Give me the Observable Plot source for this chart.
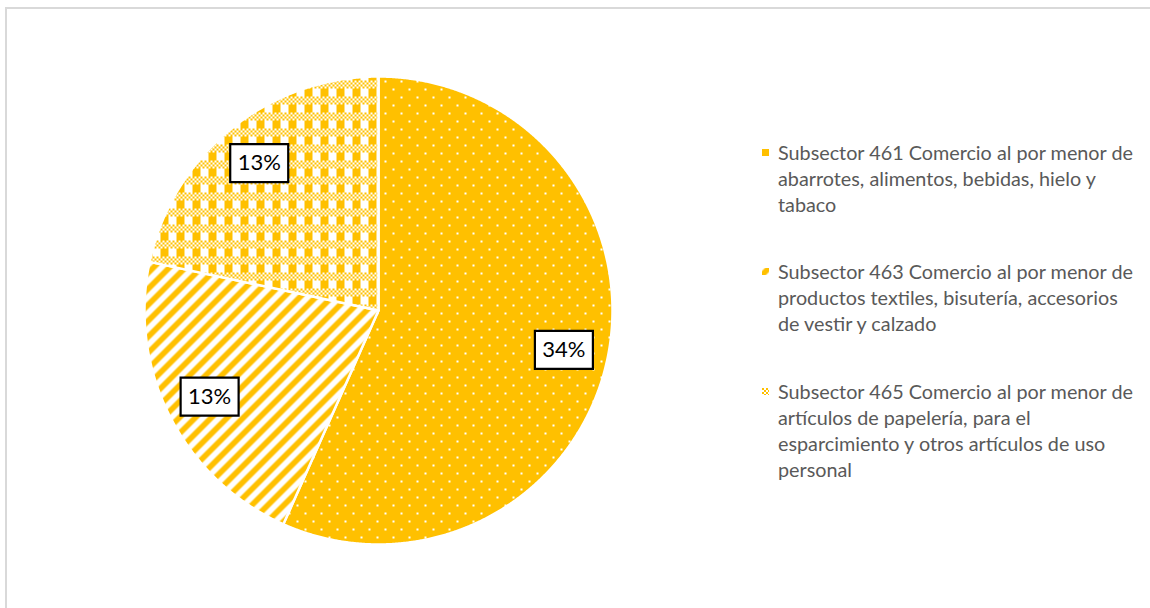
<!DOCTYPE html>
<html><head><meta charset="utf-8">
<script src="https://cdn.jsdelivr.net/npm/d3@7"></script>
<script src="https://cdn.jsdelivr.net/npm/@observablehq/plot@0.6"></script>
<style>
body{margin:0;background:#fff;}
#wrap{position:relative;width:1150px;height:608px;overflow:hidden;background:#fff;font-family:Lato,sans-serif;}
#frame{position:absolute;left:5px;top:7px;width:1200px;height:700px;border-left:2px solid #d9d9d9;border-top:2px solid #d9d9d9;}
#chart{position:absolute;left:0;top:0;}
.item{position:absolute;left:778px;font-size:19.8px;line-height:26px;color:#595959;white-space:nowrap;}
.mk{position:absolute;left:-16px;top:9.5px;width:7px;height:7px;overflow:visible;}
</style></head><body>
<div id="wrap"><div id="frame"></div><div id="chart"></div><div id="legend"></div></div>
<script>
// ---- data ----
const categories = ["Subsector 461", "Subsector 463", "Subsector 465"];
const legendLines = [
  ["Subsector 461 Comercio al por menor de", "abarrotes, alimentos, bebidas, hielo y", "tabaco"],
  ["Subsector 463 Comercio al por menor de", "productos textiles, bisutería, accesorios", "de vestir y calzado"],
  ["Subsector 465 Comercio al por menor de", "artículos de papelería, para el", "esparcimiento y otros artículos de uso", "personal"]
];
const values = [34, 13, 13];
const labels = ["34%", "13%", "13%"];
const patternIds = ["p461", "p463", "p465"];
const ORANGE = "#FFC000";

// ---- pie geometry from data ----
const pie = d3.pie().sort(null).value(d => d.value)(values.map((v, i) => ({key: categories[i], value: v, pat: patternIds[i], label: labels[i]})));
const step = Math.PI / 720;
const slicePts = [];
const labelPts = [];
pie.forEach(s => {
  const k = s.data.key, p = `url(#${s.data.pat})`;
  slicePts.push({key: k, pat: p, x: 0, y: 0});
  const n = Math.ceil((s.endAngle - s.startAngle) / step);
  for (let j = 0; j <= n; j++) {
    const a = s.startAngle + (s.endAngle - s.startAngle) * j / n;
    slicePts.push({key: k, pat: p, x: Math.sin(a), y: Math.cos(a)});
  }
  slicePts.push({key: k, pat: p, x: 0, y: 0});
  const m = (s.startAngle + s.endAngle) / 2;
  labelPts.push({label: s.data.label, x: 0.81 * Math.sin(m), y: 0.81 * Math.cos(m)});
});

const boxSymbol = {draw(ctx) { ctx.rect(-29, -19, 58, 38); }};

const plot = Plot.plot({
  width: 1150, height: 608,
  margin: 0,
  x: {domain: [-1, 1], range: [144, 612], axis: null},
  y: {domain: [-1, 1], range: [544, 76], axis: null},
  color: {type: "identity"},
  style: {background: "transparent", overflow: "visible"},
  marks: [
    Plot.line(slicePts, {x: "x", y: "y", z: "key", fill: "pat", stroke: "white", strokeWidth: 2.5, strokeLinejoin: "round"}),
    Plot.dot(labelPts, {x: "x", y: "y", symbol: boxSymbol, fill: "white", stroke: "black", strokeWidth: 2.2}),
    Plot.text(labelPts, {x: "x", y: "y", text: "label", fontSize: 22, fill: "black", fontFamily: "Lato, sans-serif"})
  ]
});

// ---- pattern definitions ----
const NS = "http://www.w3.org/2000/svg";
function el(tag, attrs, parent) {
  const e = document.createElementNS(NS, tag);
  for (const k in attrs) e.setAttribute(k, attrs[k]);
  if (parent) parent.appendChild(e);
  return e;
}
const defs = el("defs", {});
// dots
let pt = el("pattern", {id: "p461", width: 16, height: 16, patternUnits: "userSpaceOnUse"}, defs);
el("rect", {width: 16, height: 16, fill: ORANGE}, pt);
el("rect", {x: 0, y: 0, width: 2, height: 2, fill: "white"}, pt);
el("rect", {x: 8, y: 8, width: 2, height: 2, fill: "white"}, pt);
// wide upward diagonal
pt = el("pattern", {id: "p463", width: 16, height: 16, patternUnits: "userSpaceOnUse"}, defs);
el("rect", {width: 16, height: 16, fill: "white"}, pt);
el("polygon", {points: "0,0 8,0 0,8", fill: ORANGE}, pt);
el("polygon", {points: "16,0 0,16 8,16 16,8", fill: ORANGE}, pt);
// plaid
pt = el("pattern", {id: "p465", width: 16, height: 16, patternUnits: "userSpaceOnUse"}, defs);
el("rect", {width: 16, height: 16, fill: "white"}, pt);
for (let r = 0; r < 4; r++) for (let c = 0; c < 8; c++) if ((r + c) % 2 === 0) el("rect", {x: c * 2, y: r * 2, width: 2, height: 2, fill: ORANGE}, pt);
el("rect", {x: 0, y: 8, width: 8, height: 8, fill: ORANGE}, pt);
plot.insertBefore(defs, plot.firstChild);
document.getElementById("chart").appendChild(plot);

// ---- legend ----
const legend = document.getElementById("legend");
const tops = [139, 258, 378];
const mkOrigins = [[1, 2], [6.5, 6.5], [0, 0]];
legendLines.forEach((lines, i) => {
  const d = document.createElement("div");
  d.className = "item";
  d.style.top = tops[i] + "px";
  d.innerHTML = lines.join("<br>");
  const s = el("svg", {class: "mk", width: 7, height: 7, viewBox: "0 0 7 7"});
  const g = el("g", {transform: `translate(${-mkOrigins[i][0]},${-mkOrigins[i][1]})`}, s);
  el("rect", {x: mkOrigins[i][0], y: mkOrigins[i][1], width: 7, height: 7, fill: `url(#${patternIds[i]})`}, g);
  d.appendChild(s);
  legend.appendChild(d);
});
</script>
</body></html>
